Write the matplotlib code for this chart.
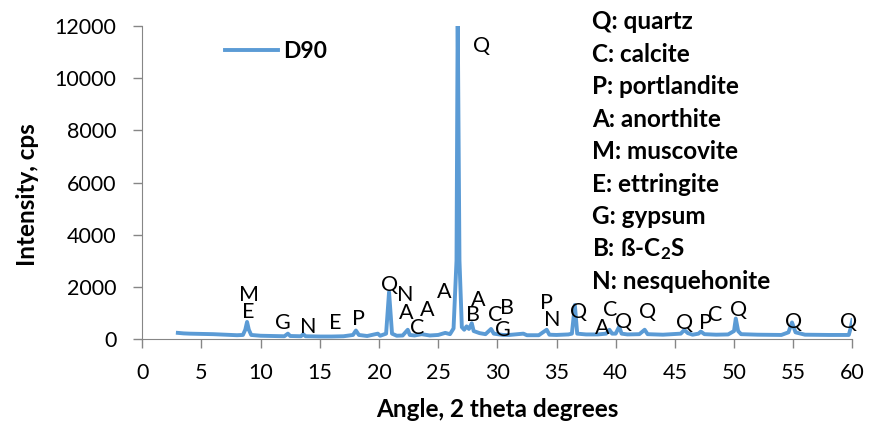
import matplotlib
matplotlib.use('Agg')
import matplotlib.pyplot as plt

plt.rcParams['font.family'] = ['Lato', 'DejaVu Sans']
plt.rcParams['mathtext.fontset'] = 'custom'
plt.rcParams['mathtext.rm'] = 'Lato:bold'
plt.rcParams['mathtext.it'] = 'Lato:bold'
plt.rcParams['mathtext.bf'] = 'Lato:bold'

# XRD pattern (2 theta, counts per second)
angle = [3.0, 3.5, 4.0, 5.0, 6.0, 7.0, 8.0, 8.5, 8.7, 8.85, 9.0, 9.2, 10.0, 11.0,
         12.0, 12.3, 12.5, 13.4, 13.6, 13.8, 15.0, 16.0, 17.0, 17.8, 18.05, 18.3,
         19.0, 19.9, 20.1, 20.6, 20.85, 21.1, 21.5, 22.0, 22.43, 22.6, 23.0, 23.6,
         24.3, 25.0, 25.6, 26.0, 26.3, 26.55, 26.65, 26.8, 27.0, 27.2, 27.4, 27.6,
         27.84, 28.0, 28.5, 29.0, 29.47, 29.7, 30.5, 31.0, 32.2, 32.5, 33.5, 34.17,
         34.4, 35.0, 36.0, 36.3, 36.55, 36.75, 37.5, 38.5, 39.2, 39.47, 39.7, 40.0,
         40.3, 40.5, 41.0, 42.0, 42.45, 42.7, 44.0, 45.5, 45.8, 46.1, 46.5, 47.0,
         47.2, 47.5, 48.5, 49.5, 50.0, 50.15, 50.35, 50.6, 52.0, 54.0, 54.6, 54.9,
         55.2, 56.0, 58.0, 59.7, 59.85, 60.0]
intensity = [230, 210, 200, 190, 180, 160, 140, 150, 350, 650, 350, 150, 120, 110,
             100, 200, 110, 100, 180, 100, 90, 90, 100, 150, 320, 150,
             110, 200, 120, 200, 1800, 200, 120, 130, 350, 150, 130, 180,
             130, 150, 230, 180, 400, 3000, 12500, 3000, 450, 350, 480, 380,
             600, 300, 220, 180, 380, 200, 150, 150, 200, 140, 140, 350,
             160, 150, 170, 200, 1300, 200, 170, 170, 200, 350, 200, 200,
             470, 200, 170, 180, 350, 180, 160, 200, 340, 220, 160, 200,
             280, 180, 160, 170, 300, 780, 300, 180, 160, 150, 250, 630,
             250, 160, 150, 150, 400, 720]

# phase letters and where they sit
peak_labels = ['M', 'E', 'G', 'N', 'E', 'P', 'Q', 'N', 'A', 'C', 'A', 'A', 'Q',
               'B', 'A', 'C', 'B', 'G', 'P', 'N', 'Q', 'A', 'C', 'Q', 'Q', 'Q',
               'P', 'C', 'Q', 'Q', 'Q']
label_x = [8.98, 8.98, 11.86, 14.03, 16.28, 18.25, 20.9, 22.2, 22.28, 23.2, 24.03,
           25.5, 28.68, 27.97, 28.4, 29.8, 30.85, 30.45, 34.17, 34.68, 36.85, 38.82,
           39.52, 40.7, 42.68, 45.78, 47.55, 48.4, 50.37, 55.0, 59.66]
label_y = [1690, 1050, 600, 470, 600, 755, 2050, 1690, 985, 420, 1110,
           1815, 11250, 920, 1495, 930, 1180, 345, 1370, 730, 1030, 410,
           1090, 640, 1030, 600, 600, 900, 1090, 640, 640]

phases = ['Q: quartz', 'C: calcite', 'P: portlandite', 'A: anorthite', 'M: muscovite',
          'E: ettringite', 'G: gypsum', r'B: ß-C$_2$S', 'N: nesquehonite']

fig = plt.figure(figsize=(8.7, 4.22), dpi=100)
ax = fig.add_axes([0.1636, 0.197, 0.8161, 0.741])

ax.plot(angle, intensity, color='#5B9BD5', linewidth=2.8, label='D90', solid_joinstyle='round')

for lab, x, y in zip(peak_labels, label_x, label_y):
    ax.text(x, y, lab, ha='center', va='center', fontsize=15.5, color='black')

ax.set_xlim(0, 60)
ax.set_ylim(0, 12000)
ax.set_xticks(range(0, 61, 5))
ax.set_yticks(range(0, 12001, 2000))
ax.tick_params(direction='out', length=6.5, width=1, color='#868686', labelsize=15.5)
ax.tick_params(axis='x', pad=11)
ax.tick_params(axis='y', pad=12)
for side in ['top', 'right']:
    ax.spines[side].set_visible(False)
for side in ['left', 'bottom']:
    ax.spines[side].set_color('#868686')

ax.set_xlabel('Angle, 2 theta degrees', fontsize=17.5, fontweight='bold')
ax.set_ylabel('Intensity, cps', fontsize=17.5, fontweight='bold')
ax.xaxis.set_label_coords(0.5, -0.19)
ax.yaxis.set_label_coords(-0.145, 0.46)

leg = ax.legend(loc='center left', bbox_to_anchor=(0.2586, 0.879), bbox_transform=fig.transFigure,
                frameon=False, handlelength=2.3, handletextpad=0.25, borderpad=0, borderaxespad=0,
                prop={'size': 16.5, 'weight': 'bold'})

for i, txt in enumerate(phases):
    fig.text(592 / 870, 1 - (21.7 + i * 32.5) / 422, txt, ha='left', va='center',
             fontsize=17.5, fontweight='bold')

fig.savefig('out.png', dpi=100)
